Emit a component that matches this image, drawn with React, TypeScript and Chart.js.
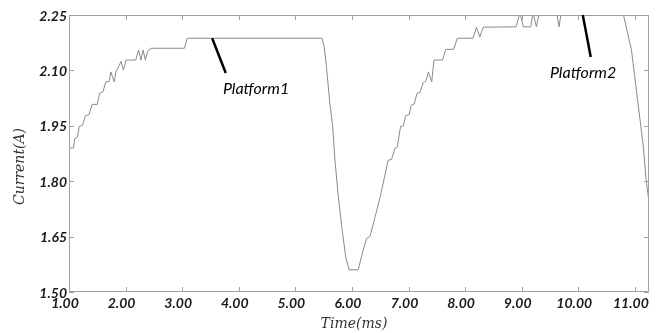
import React, { useEffect, useRef } from "react";
import { Chart, registerables } from "chart.js";

Chart.register(...registerables);

const timeMs = [
  1.0, 1.08, 1.1, 1.15, 1.18, 1.24, 1.29, 1.35, 1.41, 1.5, 1.54, 1.6, 1.65, 1.71, 1.74, 1.8, 1.83,
  1.92, 1.96, 2.01, 2.18, 2.23, 2.27, 2.31, 2.35, 2.39, 2.45, 3.04, 3.09, 5.47, 5.51, 5.55, 5.61,
  5.66, 5.7, 5.76, 5.82, 5.89, 5.95, 6.11, 6.2, 6.26, 6.32, 6.41, 6.5, 6.64, 6.7, 6.76, 6.8, 6.86,
  6.91, 6.95, 7.01, 7.05, 7.1, 7.15, 7.2, 7.26, 7.31, 7.35, 7.41, 7.45, 7.6, 7.66, 7.8, 7.86, 8.14,
  8.2, 8.26, 8.32, 8.9, 8.97, 9.03, 9.16, 9.2, 9.26, 9.31, 9.62, 9.66, 9.7, 10.79, 10.94, 11.15,
  11.2, 11.25,
];
const currentA = [
  1.89, 1.89, 1.915, 1.92, 1.948, 1.952, 1.977, 1.98, 2.008, 2.008, 2.038, 2.042, 2.069, 2.07,
  2.096, 2.069, 2.096, 2.124, 2.101, 2.128, 2.128, 2.155, 2.128, 2.155, 2.128, 2.152, 2.16, 2.16,
  2.187, 2.187, 2.164, 2.11, 2.011, 1.948, 1.857, 1.758, 1.677, 1.595, 1.56, 1.56, 1.614, 1.645,
  1.65, 1.704, 1.758, 1.857, 1.859, 1.889, 1.892, 1.948, 1.95, 1.977, 1.98, 2.006, 2.009, 2.038,
  2.04, 2.067, 2.072, 2.096, 2.069, 2.128, 2.128, 2.157, 2.157, 2.187, 2.187, 2.217, 2.19, 2.217,
  2.218, 2.256, 2.218, 2.218, 2.256, 2.218, 2.256, 2.256, 2.218, 2.256, 2.256, 2.155, 1.893, 1.803,
  1.744,
];
const xTicks = [1, 2, 3, 4, 5, 6, 7, 8, 9, 10, 11];
const yTicks = [1.5, 1.65, 1.8, 1.95, 2.1, 2.25];
const xTitle = "Time(ms)";
const yTitle = "Current(A)";
const calloutLabels = ["Platform1", "Platform2"];
const calloutFrom = [
  [3.53, 2.187],
  [10.08, 2.25],
];
const calloutTo = [
  [3.77, 2.093],
  [10.22, 2.136],
];
const calloutText = [
  [3.72, 2.05],
  [9.5, 2.093],
];

const tickFont = { family: "Lato", size: 14, style: "italic" as const, weight: "bold" as const };
const frameColor = "#a0a0a0";

const framePlugin = {
  id: "frameAndNotes",
  afterDraw(chart: any) {
    const { ctx, chartArea } = chart;
    const { left, right, top, bottom } = chartArea;
    const xs = chart.scales.x;
    const ys = chart.scales.y;
    ctx.save();
    ctx.strokeStyle = frameColor;
    ctx.lineWidth = 1;
    ctx.beginPath();
    ctx.rect(left + 0.5, top + 0.5, right - left - 1, bottom - top - 1);
    ctx.stroke();
    const tl = 5;
    ctx.beginPath();
    xTicks.forEach((v) => {
      const px = Math.round(xs.getPixelForValue(v)) + 0.5;
      ctx.moveTo(px, bottom);
      ctx.lineTo(px, bottom - tl);
      ctx.moveTo(px, top);
      ctx.lineTo(px, top + tl);
    });
    yTicks.forEach((v) => {
      const py = Math.round(ys.getPixelForValue(v)) + 0.5;
      ctx.moveTo(left, py);
      ctx.lineTo(left + tl, py);
      ctx.moveTo(right, py);
      ctx.lineTo(right - tl, py);
    });
    ctx.stroke();

    // callouts
    ctx.strokeStyle = "#000";
    ctx.lineWidth = 2.5;
    ctx.fillStyle = "#000";
    ctx.font = "italic 16px Lato";
    ctx.textBaseline = "middle";
    ctx.textAlign = "left";
    calloutLabels.forEach((lab, i) => {
      ctx.beginPath();
      ctx.moveTo(xs.getPixelForValue(calloutFrom[i][0]), ys.getPixelForValue(calloutFrom[i][1]));
      ctx.lineTo(xs.getPixelForValue(calloutTo[i][0]), ys.getPixelForValue(calloutTo[i][1]));
      ctx.stroke();
      ctx.fillText(lab, xs.getPixelForValue(calloutText[i][0]), ys.getPixelForValue(calloutText[i][1]));
    });

    // axis titles
    ctx.fillStyle = "#333";
    ctx.font = "italic 14px 'DejaVu Serif'";
    ctx.textAlign = "center";
    ctx.textBaseline = "middle";
    ctx.fillText(xTitle, (left + right) / 2 - 5, 324);
    ctx.translate(20, (top + bottom) / 2 + 13);
    ctx.rotate(-Math.PI / 2);
    ctx.fillText(yTitle, 0, 0);
    ctx.restore();
  },
};

export default function App() {
  const ref = useRef<HTMLCanvasElement | null>(null);
  useEffect(() => {
    if (!ref.current) return;
    const chart = new Chart(ref.current, {
      type: "line",
      data: {
        datasets: [
          {
            data: timeMs.map((t, i) => ({ x: t, y: currentA[i] })),
            borderColor: "#8a8a8a",
            borderWidth: 1,
            pointRadius: 0,
            tension: 0,
            fill: false,
          },
        ],
      },
      options: {
        animation: false,
        responsive: false,
        events: [],
        layout: { padding: { top: 15, right: 15, left: 0, bottom: 0 } },
        plugins: { legend: { display: false }, tooltip: { enabled: false } },
        scales: {
          x: {
            type: "linear",
            min: 1,
            max: 11.25,
            afterBuildTicks: (s: any) => {
              s.ticks = xTicks.map((v) => ({ value: v }));
            },
            afterFit: (s: any) => {
              s.height = 41;
            },
            grid: { display: false, drawTicks: false },
            border: { display: false },
            ticks: {
              autoSkip: false,
              maxRotation: 0,
              padding: 3,
              labelOffset: -4,
              color: "#1a1a1a",
              font: tickFont,
              callback: (v: any) => Number(v).toFixed(2),
            },
          },
          y: {
            type: "linear",
            min: 1.5,
            max: 2.25,
            afterBuildTicks: (s: any) => {
              s.ticks = yTicks.map((v) => ({ value: v }));
            },
            afterFit: (s: any) => {
              s.width = 69;
            },
            grid: { display: false, drawTicks: false },
            border: { display: false },
            ticks: {
              autoSkip: false,
              padding: 2,
              labelOffset: 1,
              color: "#1a1a1a",
              font: tickFont,
              callback: (v: any) => Number(v).toFixed(2),
            },
          },
        },
      },
      plugins: [framePlugin],
    });
    return () => chart.destroy();
  }, []);
  return (
    <div style={{ position: "fixed", left: 0, top: 0, width: 664, height: 333, background: "#fff" }}>
      <canvas ref={ref} width={664} height={333} style={{ width: 664, height: 333 }} />
    </div>
  );
}
